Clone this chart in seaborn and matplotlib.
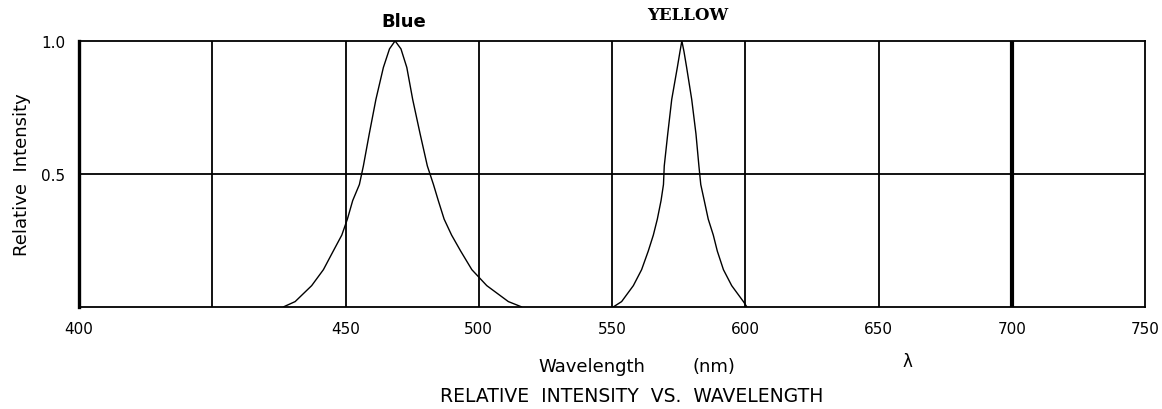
"""Relative intensity vs. wavelength chart for blue and yellow LEDs."""

import matplotlib.pyplot as plt
import pandas as pd
import seaborn as sns

# spectra (wavelength in nm, relative intensity)
blue_nm = [426.7, 431.1, 437.3, 441.7, 445.4, 448.6, 450.7, 452.7, 455.2, 456.7,
           458.9, 461.4, 464.2, 466.5, 468.6, 470.8, 473.0, 475.2, 478.0, 480.7,
           483.0, 484.8, 487.0, 489.8, 493.2, 497.4, 503.0, 511.1, 516.1]
blue_rel = [0.0, 0.02, 0.08, 0.14, 0.21, 0.27, 0.33, 0.40, 0.46, 0.53,
            0.65, 0.78, 0.90, 0.97, 1.0, 0.97, 0.90, 0.78, 0.65, 0.53,
            0.46, 0.40, 0.33, 0.27, 0.21, 0.14, 0.08, 0.02, 0.0]

yellow_nm = [550.5, 553.6, 558.0, 561.1, 563.6, 565.5, 567.0, 568.4, 569.3, 569.6,
             570.9, 572.4, 574.5, 575.5, 576.2, 577.0, 578.0, 579.9, 581.5, 582.6,
             583.3, 584.6, 586.1, 588.0, 589.5, 591.8, 594.9, 599.3, 600.6]
yellow_rel = [0.0, 0.02, 0.08, 0.14, 0.21, 0.27, 0.33, 0.40, 0.46, 0.53,
              0.65, 0.78, 0.90, 0.96, 1.0, 0.96, 0.90, 0.78, 0.65, 0.53,
              0.46, 0.40, 0.33, 0.27, 0.21, 0.14, 0.08, 0.02, 0.0]

# axis labelling as printed on the sheet
x_tick_pos = [350, 450, 500, 550, 600, 650, 700, 750]
x_tick_labels = ['400', '450', '500', '550', '600', '650', '700', '750']
y_tick_pos = [0.5, 1.0]
y_tick_labels = ['0.5', '1.0']
grid_nm = [400, 450, 500, 550, 600, 650, 700]
grid_width = [1.3, 1.3, 1.3, 1.3, 1.3, 1.3, 3.0]

sns.set_style('white')
plt.rcParams['font.family'] = ['DejaVu Sans']
plt.rcParams['text.color'] = 'black'
plt.rcParams['xtick.color'] = 'black'
plt.rcParams['ytick.color'] = 'black'

fig = plt.figure(figsize=(11.62, 4.10), dpi=100)
ax = fig.add_axes([0.068, 0.249, 0.9174, 0.6488])

df = pd.concat([
    pd.DataFrame({'nm': blue_nm, 'rel': blue_rel, 'led': 'Blue'}),
    pd.DataFrame({'nm': yellow_nm, 'rel': yellow_rel, 'led': 'YELLOW'}),
])
sns.lineplot(data=df, x='nm', y='rel', units='led', estimator=None, sort=False,
             color='black', lw=1.0, ax=ax)

ax.vlines(grid_nm, 0, 1, colors='black', lw=grid_width)
ax.axhline(0.5, color='black', lw=1.3)

ax.set_xlim(350, 750)
ax.set_ylim(0, 1)
ax.set_xticks(x_tick_pos, x_tick_labels)
ax.set_yticks(y_tick_pos, y_tick_labels)
ax.tick_params(axis='x', length=0, pad=10, labelsize=11)
ax.tick_params(axis='y', length=0, pad=10, labelsize=11)
ax.set_xlabel('')
ax.set_ylabel('')
for side, spine in ax.spines.items():
    spine.set_color('black')
    spine.set_linewidth(2.4 if side == 'left' else 1.3)

fig.text(404 / 1162, 1 - 22 / 410, 'Blue', ha='center', va='center',
         fontsize=13, fontweight='bold')
fig.text(688 / 1162, 1 - 15 / 410, 'YELLOW', ha='center', va='center',
         fontsize=12, fontweight='bold', family=['DejaVu Serif'])
fig.text(22 / 1162, 1 - 175 / 410, 'Relative  Intensity', ha='center', va='center',
         rotation=90, fontsize=13)
fig.text(592 / 1162, 1 - 367 / 410, 'Wavelength', ha='center', va='center', fontsize=13)
fig.text(714 / 1162, 1 - 367 / 410, '(nm)', ha='center', va='center', fontsize=13)
fig.text(907 / 1162, 1 - 362 / 410, 'λ', ha='center', va='center', fontsize=12)
fig.text(632 / 1162, 1 - 397 / 410, 'RELATIVE  INTENSITY  VS.  WAVELENGTH',
         ha='center', va='center', fontsize=13.5)

fig.savefig('out.png', dpi=100)
plt.close(fig)
